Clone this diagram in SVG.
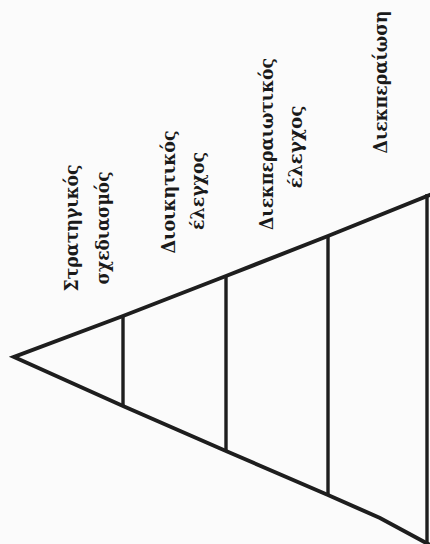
<svg xmlns="http://www.w3.org/2000/svg" width="430" height="544" viewBox="0 0 430 544">
<style>
.edge{fill:none;stroke:#1e1e1e;stroke-width:4;stroke-linejoin:miter;stroke-linecap:butt}
.div{fill:none;stroke:#1e1e1e;stroke-width:3.4}
.lbl{font-family:"DejaVu Serif","Liberation Serif",serif;font-size:18px;font-weight:bold;fill:#1a1a1a;text-anchor:middle}
</style>
<rect width="430" height="544" fill="#fbfbfb"/>
<g id="pyramid">
<polyline class="edge" points="432,194 328,236 226,276 123,316 14,357 123,406 226,451 328,495 380,518 430,545"/>
<line class="div" x1="427" y1="194" x2="427" y2="544"/>
</g>
<g id="dividers">
<line class="div" x1="123" y1="316" x2="123" y2="406"/>
<line class="div" x1="226" y1="276" x2="226" y2="451"/>
<line class="div" x1="328" y1="236" x2="328" y2="495"/>
</g>
<g id="level-strategic">
<text class="lbl" transform="translate(78,228) rotate(-90)" textLength="127" lengthAdjust="spacingAndGlyphs">Στρατηγικός</text>
<text class="lbl" transform="translate(109,228) rotate(-90)" textLength="113" lengthAdjust="spacingAndGlyphs">σχεδιασμός</text>
</g>
<g id="level-management">
<text class="lbl" transform="translate(175,192) rotate(-90)" textLength="123" lengthAdjust="spacingAndGlyphs">Διοικητικός</text>
<text class="lbl" transform="translate(204,191) rotate(-90)" textLength="78" lengthAdjust="spacingAndGlyphs">έλεγχος</text>
</g>
<g id="level-operational">
<text class="lbl" transform="translate(273,144) rotate(-90)" textLength="172" lengthAdjust="spacingAndGlyphs">Διεκπεραιωτικός</text>
<text class="lbl" transform="translate(302,147) rotate(-90)" textLength="83" lengthAdjust="spacingAndGlyphs">έλεγχος</text>
</g>
<g id="level-transaction">
<text class="lbl" transform="translate(387,82) rotate(-90)" textLength="143" lengthAdjust="spacingAndGlyphs">Διεκπεραίωση</text>
</g>
</svg>
